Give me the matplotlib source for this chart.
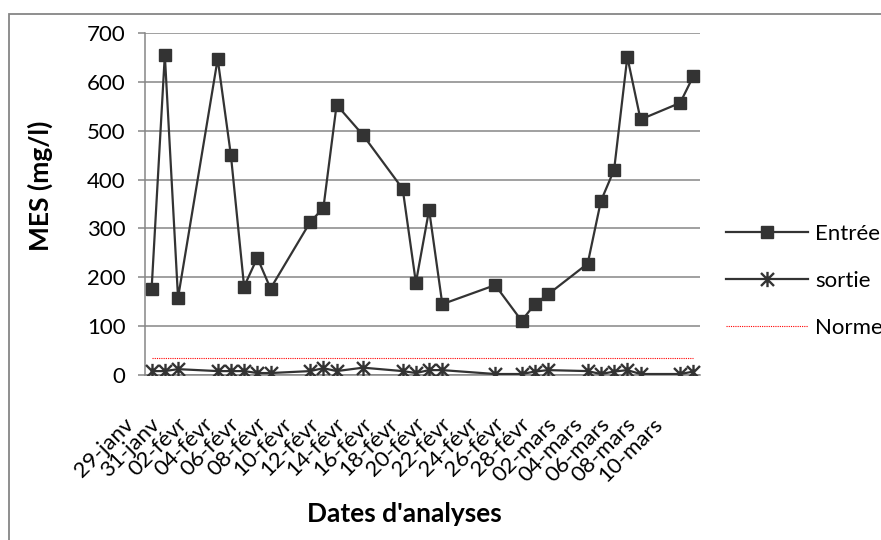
import matplotlib
matplotlib.use("Agg")
import matplotlib.pyplot as plt
import matplotlib.dates as mdates
from matplotlib.path import Path
from matplotlib.patches import Rectangle
from matplotlib.transforms import ScaledTranslation
import pandas as pd

# sampling dates (year is arbitrary, february has 28 days)
dates = ["2009-01-29", "2009-01-30", "2009-01-31", "2009-02-03", "2009-02-04",
         "2009-02-05", "2009-02-06", "2009-02-07", "2009-02-10", "2009-02-11",
         "2009-02-12", "2009-02-14", "2009-02-17", "2009-02-18", "2009-02-19",
         "2009-02-20", "2009-02-24", "2009-02-26", "2009-02-27", "2009-02-28",
         "2009-03-03", "2009-03-04", "2009-03-05", "2009-03-06", "2009-03-07",
         "2009-03-10", "2009-03-11"]

entree = [176, 655, 158, 647, 450, 181, 240, 177, 313, 342, 553, 491, 381, 189,
          338, 145, 184, 111, 145, 165, 228, 356, 420, 651, 523, 557, 612]
sortie = [8, 8, 12, 8, 8, 8, 4, 4, 8, 14, 8, 15, 8, 4, 10, 10, 2, 2, 7, 10,
          8, 2, 7, 10, 2, 2, 7]
norme = [35] * len(dates)

tick_labels = ["29-janv", "31-janv", "02-févr", "04-févr", "06-févr", "08-févr",
               "10-févr", "12-févr", "14-févr", "16-févr", "18-févr", "20-févr",
               "22-févr", "24-févr", "26-févr", "28-févr", "02-mars", "04-mars",
               "06-mars", "08-mars", "10-mars"]

plt.rcParams['font.family'] = ['Lato', 'DejaVu Sans']

x = mdates.date2num(pd.to_datetime(dates))
ticks = mdates.date2num(pd.date_range("2009-01-29", periods=len(tick_labels), freq="2D"))

fig = plt.figure(figsize=(8.81, 5.40), dpi=100)
ax = fig.add_axes([145 / 881, 1 - 375 / 540, 555 / 881, 342 / 540])

grey = '#868686'
dark = '#333333'

# outer chart frame
fig.patches.append(Rectangle((9 / 881, -0.05), 1.2, 1 - 14 / 540 + 0.05,
                             transform=fig.transFigure, fill=False,
                             edgecolor=grey, linewidth=1.3, zorder=0))

# asterisk marker: vertical bar plus an X
star = Path([(0, -1), (0, 1), (-0.85, -0.85), (0.85, 0.85), (-0.85, 0.85), (0.85, -0.85)],
            [Path.MOVETO, Path.LINETO, Path.MOVETO, Path.LINETO, Path.MOVETO, Path.LINETO])

ax.plot(x, entree, color=dark, linewidth=1.6, marker='s', markersize=9,
        markerfacecolor=dark, markeredgecolor=dark, label='Entrée', zorder=4)
ax.plot(x, sortie, color=dark, linewidth=1.6, marker=star, markersize=11,
        markeredgewidth=1.7, markeredgecolor=dark, label='sortie', zorder=4)
ax.plot(x, norme, color='red', linewidth=0.8, linestyle=(0, (1, 1)),
        label='Norme', zorder=3)

ax.set_xlim(x[0] - 0.5, x[0] + 41.5)
ax.set_ylim(0, 700)
ax.set_yticks(range(0, 701, 100))
ax.yaxis.grid(True, color=grey, linewidth=1.1)
ax.set_axisbelow(True)

for side in ['top', 'right']:
    ax.spines[side].set_visible(False)
for side in ['left', 'bottom']:
    ax.spines[side].set_color(grey)
    ax.spines[side].set_linewidth(1.1)

ax.tick_params(axis='y', direction='out', length=5, width=1.1, color=grey,
               pad=9, labelsize=16)
ax.set_xticks(ticks)
ax.set_xticklabels(tick_labels, rotation=45, ha='right', va='center',
                   rotation_mode='anchor', fontsize=16)
ax.tick_params(axis='x', length=0, pad=33)
shift = ScaledTranslation(-0.21, 0, fig.dpi_scale_trans)
for label in ax.get_xticklabels():
    label.set_transform(label.get_transform() + shift)

fig.text(40 / 881, 1 - 186 / 540, 'MES (mg/l)', rotation=90, ha='center',
         va='center', fontsize=19, fontweight='bold')
fig.text(404 / 881, 1 - 514 / 540, "Dates d'analyses", ha='center',
         va='center', fontsize=19, fontweight='bold')

fig.legend(loc='upper left', bbox_to_anchor=(726 / 881, 1 - 224 / 540),
           frameon=False, fontsize=16, handlelength=3.7, handletextpad=0.3,
           labelspacing=1.22, borderpad=0, borderaxespad=0)

fig.savefig('out.png', dpi=100)
